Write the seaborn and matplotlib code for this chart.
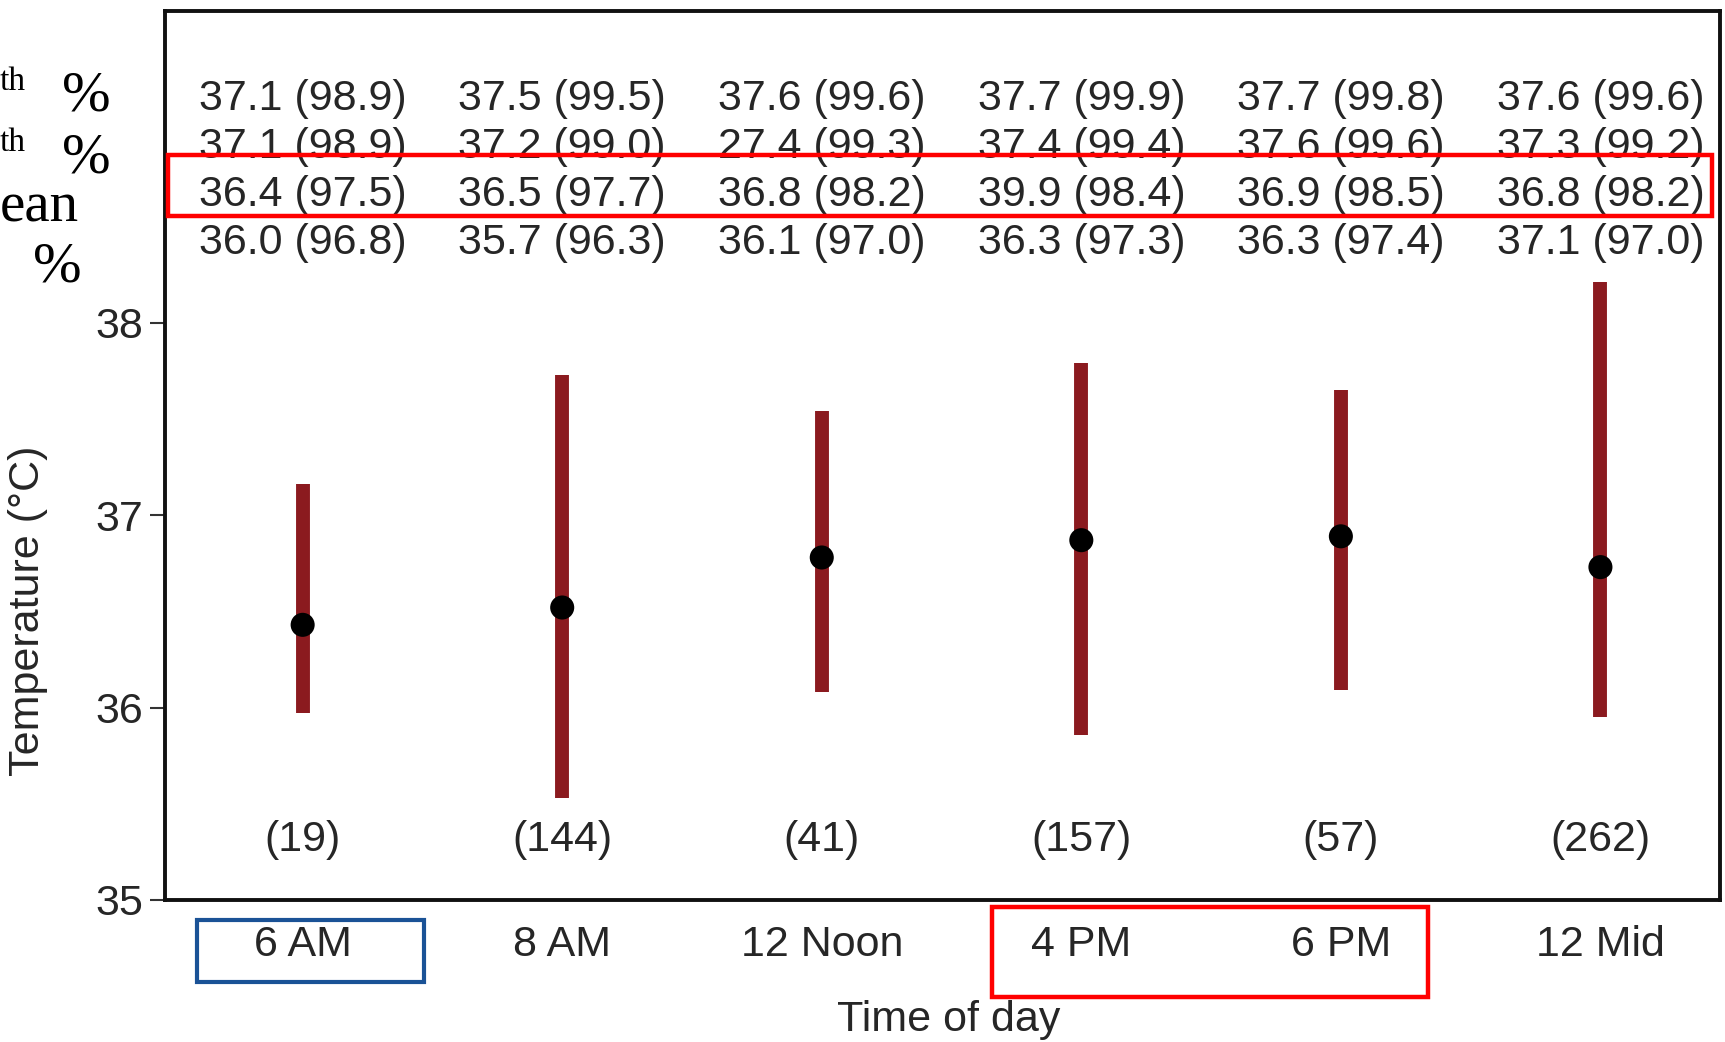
import matplotlib
matplotlib.use("Agg")
import matplotlib.pyplot as plt
import matplotlib.patches as mpatches
import pandas as pd
import seaborn as sns

# Values
times = ["6 AM", "8 AM", "12 Noon", "4 PM", "6 PM", "12 Mid"]
mean_temp = [36.43, 36.52, 36.78, 36.87, 36.89, 36.73]
bar_low = [35.97, 35.53, 36.08, 35.86, 36.09, 35.95]
bar_high = [37.16, 37.73, 37.54, 37.79, 37.65, 38.21]
counts = [19, 144, 41, 157, 57, 262]

# Table rows printed above the bars: deg C (deg F)
row1_c = [37.1, 37.5, 37.6, 37.7, 37.7, 37.6]
row1_f = [98.9, 99.5, 99.6, 99.9, 99.8, 99.6]
row2_c = [37.1, 37.2, 27.4, 37.4, 37.6, 37.3]
row2_f = [98.9, 99.0, 99.3, 99.4, 99.6, 99.2]
row3_c = [36.4, 36.5, 36.8, 39.9, 36.9, 36.8]
row3_f = [97.5, 97.7, 98.2, 98.4, 98.5, 98.2]
row4_c = [36.0, 35.7, 36.1, 36.3, 36.3, 37.1]
row4_f = [96.8, 96.3, 97.0, 97.3, 97.4, 97.0]
row_y = [39.165, 38.915, 38.665, 38.415]
count_y = 35.31

sns.set_theme(style="white")
plt.rcParams["font.family"] = ["Liberation Sans", "DejaVu Sans"]
txt = "#262626"
fs = 31

df = pd.DataFrame({"time": times, "pos": range(len(times)), "mean": mean_temp,
                   "low": bar_low, "high": bar_high})

fig = plt.figure(figsize=(17.25, 10.42), dpi=100)
ax = fig.add_axes([0.0957, 0.1363, 0.9013, 0.8531])

ax.vlines(df["pos"], df["low"], df["high"], color="#8b1a1f", linewidth=10, zorder=2)
sns.scatterplot(data=df, x="pos", y="mean", color="black", s=300, edgecolor="none",
                zorder=3, ax=ax, legend=False)

rows = [(row1_c, row1_f), (row2_c, row2_f), (row3_c, row3_f), (row4_c, row4_f)]
for (cs, fh), yy in zip(rows, row_y):
    for i, (c, f) in enumerate(zip(cs, fh)):
        ax.text(i, yy, f"{c:.1f} ({f:.1f})", ha="center", va="center",
                fontsize=fs, color=txt)
for i, n in enumerate(counts):
    ax.text(i, count_y, f"({n})", ha="center", va="center", fontsize=fs, color=txt)

ax.set_xlim(-0.53, 5.46)
ax.set_ylim(35, 39.62)
ax.set_yticks([35, 36, 37, 38])
ax.set_xticks(range(len(times)))
ax.set_xticklabels(times)
ax.tick_params(axis="y", left=True, length=11, width=1.5, color="#333333",
               labelsize=fs, labelcolor=txt, pad=5)
ax.tick_params(axis="x", bottom=False, labelsize=fs, labelcolor=txt, pad=12)
for s in ax.spines.values():
    s.set_color("#111111")
    s.set_linewidth(2.8)

ax.set_xlabel("Time of day", fontsize=fs, color=txt)
ax.set_ylabel("Temperature (\u00b0C)", fontsize=fs, color=txt)
ax.xaxis.set_label_coords(0.504, -0.112)
ax.yaxis.set_label_coords(-0.075, 0.325)

# highlight boxes
ax.add_patch(mpatches.Rectangle((-0.52, 38.555), 5.95, 0.315, fill=False,
                                edgecolor="#ff0000", linewidth=3.2, zorder=4))
ax.add_patch(mpatches.Rectangle((-0.407, 34.576), 0.873, 0.321, fill=False,
                                edgecolor="#1a5296", linewidth=3.0, clip_on=False, zorder=4))
ax.add_patch(mpatches.Rectangle((2.657, 34.496), 1.678, 0.47, fill=False,
                                edgecolor="#ff0000", linewidth=3.2, clip_on=False, zorder=4))

# cropped row labels at the left edge
serif = ["Liberation Serif", "DejaVu Serif"]
fig.text(0.0, 0.922, "th", family=serif, fontsize=24, color="black", va="center")
fig.text(0.036, 0.907, "%", family=serif, fontsize=42, color="black", va="center")
fig.text(0.0, 0.863, "th", family=serif, fontsize=24, color="black", va="center")
fig.text(0.036, 0.848, "%", family=serif, fontsize=42, color="black", va="center")
fig.text(0.0, 0.801, "ean", family=serif, fontsize=41, color="black", va="center")
fig.text(0.019, 0.743, "%", family=serif, fontsize=42, color="black", va="center")

fig.savefig("out.png", dpi=100)
